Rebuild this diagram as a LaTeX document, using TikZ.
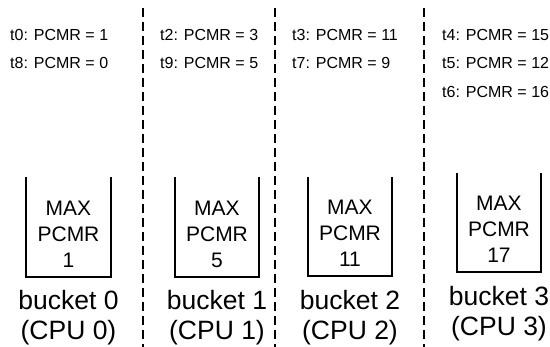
\documentclass[tikz,border=0pt]{standalone}
\usepackage{fontspec}
\setmainfont{Liberation Sans}
\begin{document}
\begin{tikzpicture}[x=1pt,y=-1pt,
  sep/.style={line width=2.2pt, dash pattern=on 9pt off 5pt},
  tlabel/.style={anchor=west, inner sep=0pt, font=\fontsize{16}{19}\selectfont},
  bucketbox/.style={minimum width=84pt, minimum height=99pt, inner sep=0pt},
  boxline/.style={line width=2pt},
  maxtext/.style={align=center, font=\fontsize{21}{26}\selectfont, inner sep=0pt},
  bucketlabel/.style={align=center, font=\fontsize{26.5}{30}\selectfont, inner sep=0pt}]
\useasboundingbox (0,0) rectangle (550,347);

% separators
\coordinate (s1t) at (143,8);  \coordinate (s1b) at (143,347);
\coordinate (s2t) at (275,8);  \coordinate (s2b) at (275,347);
\coordinate (s3t) at (424,8);  \coordinate (s3b) at (424,347);
\draw[sep] (s1t) -- (s1b);
\draw[sep] (s2t) -- (s2b);
\draw[sep] (s3t) -- (s3b);

% thread labels
\node[tlabel] (t0) at (10,35) {t0: PCMR = 1};
\node[tlabel] (t8) at (10,63) {t8: PCMR = 0};
\node[tlabel] (t2) at (160,35) {t2: PCMR = 3};
\node[tlabel] (t9) at (160,63) {t9: PCMR = 5};
\node[tlabel] (t3) at (292,35) {t3: PCMR = 11};
\node[tlabel] (t7) at (292,63) {t7: PCMR = 9};
\node[tlabel] (t4) at (442,35) {t4: PCMR = 15};
\node[tlabel] (t5) at (442,63) {t5: PCMR = 12};
\node[tlabel] (t6) at (442,92) {t6: PCMR = 16};

% buckets
\foreach \i/\cx/\cy/\v in {0/68.5/227/1, 1/217/227/5, 2/350/226.5/11, 3/499/222.5/17}{
  \node[bucketbox] (b\i) at (\cx,\cy) {};
  \draw[boxline] (b\i.north west) -- (b\i.south west) -- (b\i.south east) -- (b\i.north east);
  \node[maxtext] (m\i) at ([yshift=-7pt]b\i.center) {MAX\\PCMR\\\v};
  \node[bucketlabel] (l\i) at ([yshift=-91pt]b\i.center) {bucket \i\\(CPU \i)};
}
\end{tikzpicture}
\end{document}
